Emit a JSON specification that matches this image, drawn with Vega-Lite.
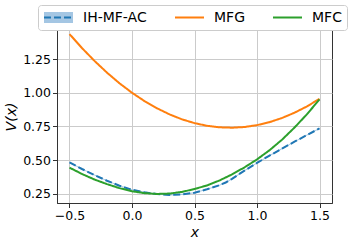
{
  "$schema": "https://vega.github.io/schema/vega-lite/v6.json",
  "width": 275,
  "height": 173,
  "autosize": "none",
  "padding": {"left": 57, "top": 30, "right": 25, "bottom": 42},
  "config": {
    "font": "DejaVu Sans",
    "view": {"stroke": "#333333", "strokeWidth": 1},
    "axis": {
      "grid": true, "gridColor": "#cbcbcb", "gridWidth": 1,
      "domainColor": "#333333", "domainWidth": 1,
      "tickColor": "#333333", "tickWidth": 1, "tickSize": 4.5,
      "labelFontSize": 12.5, "labelColor": "#000000", "labelPadding": 2,
      "titleFontSize": 14, "titleFontStyle": "italic", "titleFontWeight": "normal", "titleColor": "#000000"
    }
  },
  "data": {
    "values": [
      {"series": "IH-MF-AC", "x": -0.5, "v": 0.484, "lo": 0.480, "hi": 0.488},
      {"series": "IH-MF-AC", "x": -0.4, "v": 0.435, "lo": 0.431, "hi": 0.439},
      {"series": "IH-MF-AC", "x": -0.3, "v": 0.390, "lo": 0.386, "hi": 0.394},
      {"series": "IH-MF-AC", "x": -0.2, "v": 0.348, "lo": 0.344, "hi": 0.352},
      {"series": "IH-MF-AC", "x": -0.1, "v": 0.311, "lo": 0.307, "hi": 0.315},
      {"series": "IH-MF-AC", "x": 0.0, "v": 0.281, "lo": 0.277, "hi": 0.285},
      {"series": "IH-MF-AC", "x": 0.1, "v": 0.262, "lo": 0.258, "hi": 0.266},
      {"series": "IH-MF-AC", "x": 0.2, "v": 0.249, "lo": 0.245, "hi": 0.253},
      {"series": "IH-MF-AC", "x": 0.3, "v": 0.243, "lo": 0.239, "hi": 0.247},
      {"series": "IH-MF-AC", "x": 0.4, "v": 0.247, "lo": 0.243, "hi": 0.251},
      {"series": "IH-MF-AC", "x": 0.5, "v": 0.259, "lo": 0.255, "hi": 0.263},
      {"series": "IH-MF-AC", "x": 0.6, "v": 0.285, "lo": 0.281, "hi": 0.289},
      {"series": "IH-MF-AC", "x": 0.7, "v": 0.315, "lo": 0.311, "hi": 0.319},
      {"series": "IH-MF-AC", "x": 0.75, "v": 0.335, "lo": 0.331, "hi": 0.339},
      {"series": "IH-MF-AC", "x": 0.8, "v": 0.362, "lo": 0.358, "hi": 0.366},
      {"series": "IH-MF-AC", "x": 0.9, "v": 0.423, "lo": 0.419, "hi": 0.427},
      {"series": "IH-MF-AC", "x": 1.0, "v": 0.480, "lo": 0.476, "hi": 0.484},
      {"series": "IH-MF-AC", "x": 1.1, "v": 0.534, "lo": 0.530, "hi": 0.538},
      {"series": "IH-MF-AC", "x": 1.2, "v": 0.586, "lo": 0.582, "hi": 0.590},
      {"series": "IH-MF-AC", "x": 1.3, "v": 0.637, "lo": 0.633, "hi": 0.641},
      {"series": "IH-MF-AC", "x": 1.4, "v": 0.687, "lo": 0.683, "hi": 0.691},
      {"series": "IH-MF-AC", "x": 1.5, "v": 0.736, "lo": 0.732, "hi": 0.740},
      {"series": "MFG", "x": -0.5, "v": 1.435},
      {"series": "MFG", "x": -0.4, "v": 1.331},
      {"series": "MFG", "x": -0.3, "v": 1.236},
      {"series": "MFG", "x": -0.2, "v": 1.149},
      {"series": "MFG", "x": -0.1, "v": 1.070},
      {"series": "MFG", "x": 0.0, "v": 1.000},
      {"series": "MFG", "x": 0.1, "v": 0.938},
      {"series": "MFG", "x": 0.2, "v": 0.885},
      {"series": "MFG", "x": 0.3, "v": 0.840},
      {"series": "MFG", "x": 0.4, "v": 0.803},
      {"series": "MFG", "x": 0.5, "v": 0.775},
      {"series": "MFG", "x": 0.6, "v": 0.755},
      {"series": "MFG", "x": 0.7, "v": 0.744},
      {"series": "MFG", "x": 0.8, "v": 0.741},
      {"series": "MFG", "x": 0.9, "v": 0.746},
      {"series": "MFG", "x": 1.0, "v": 0.760},
      {"series": "MFG", "x": 1.1, "v": 0.782},
      {"series": "MFG", "x": 1.2, "v": 0.813},
      {"series": "MFG", "x": 1.3, "v": 0.852},
      {"series": "MFG", "x": 1.4, "v": 0.899},
      {"series": "MFG", "x": 1.5, "v": 0.955},
      {"series": "MFC", "x": -0.5, "v": 0.445},
      {"series": "MFC", "x": -0.4, "v": 0.398},
      {"series": "MFC", "x": -0.3, "v": 0.357},
      {"series": "MFC", "x": -0.2, "v": 0.323},
      {"series": "MFC", "x": -0.1, "v": 0.293},
      {"series": "MFC", "x": 0.0, "v": 0.270},
      {"series": "MFC", "x": 0.1, "v": 0.256},
      {"series": "MFC", "x": 0.2, "v": 0.250},
      {"series": "MFC", "x": 0.3, "v": 0.253},
      {"series": "MFC", "x": 0.4, "v": 0.265},
      {"series": "MFC", "x": 0.5, "v": 0.287},
      {"series": "MFC", "x": 0.6, "v": 0.313},
      {"series": "MFC", "x": 0.7, "v": 0.350},
      {"series": "MFC", "x": 0.8, "v": 0.395},
      {"series": "MFC", "x": 0.9, "v": 0.447},
      {"series": "MFC", "x": 1.0, "v": 0.506},
      {"series": "MFC", "x": 1.1, "v": 0.574},
      {"series": "MFC", "x": 1.2, "v": 0.652},
      {"series": "MFC", "x": 1.3, "v": 0.742},
      {"series": "MFC", "x": 1.4, "v": 0.841},
      {"series": "MFC", "x": 1.5, "v": 0.951}
    ]
  },
  "encoding": {
    "x": {
      "field": "x", "type": "quantitative",
      "scale": {"domain": [-0.6, 1.6], "nice": false, "zero": false},
      "axis": {"values": [-0.5, 0, 0.5, 1, 1.5], "format": ".1f", "title": "x", "titlePadding": 3}
    }
  },
  "layer": [
    {
      "transform": [{"filter": "datum.series == 'IH-MF-AC'"}],
      "mark": {"type": "area", "opacity": 1},
      "encoding": {
        "y": {
          "field": "lo", "type": "quantitative",
          "scale": {"domain": [0.183, 1.465], "nice": false, "zero": false},
          "axis": {"values": [0.25, 0.5, 0.75, 1.0, 1.25], "format": ".2f", "title": "V(x)", "titlePadding": 4}
        },
        "y2": {"field": "hi"},
        "fill": {
          "field": "series", "type": "nominal",
          "scale": {"domain": ["IH-MF-AC", "fill-MFG", "fill-MFC"], "range": ["#a4c6e3", "transparent", "transparent"]},
          "legend": {
            "title": null, "orient": "none", "legendX": -19, "legendY": -25, "direction": "horizontal",
            "symbolType": "M-1,-0.38H1V0.38H-1Z", "symbolSize": 841, "symbolStrokeWidth": 2, "symbolStrokeColor": "transparent",
            "labelFontSize": 14, "labelFont": "DejaVu Sans", "labelColor": "transparent", "labelOffset": 9,
            "labelExpr": "datum.label == 'IH-MF-AC' ? 'IH-MF-AC' : datum.label == 'fill-MFG' ? 'MFG' : 'MFC'",
            "columnPadding": 27, "clipHeight": 15, "padding": 5,
            "fillColor": "white", "strokeColor": "#cccccc", "cornerRadius": 3, "zindex": 0
          }
        }
      }
    },
    {
      "mark": {"type": "line", "strokeWidth": 2},
      "encoding": {
        "y": {
          "field": "v", "type": "quantitative",
          "scale": {"domain": [0.183, 1.465], "nice": false, "zero": false},
          "axis": {"values": [0.25, 0.5, 0.75, 1.0, 1.25], "format": ".2f", "title": "V(x)", "titlePadding": 4}
        },
        "color": {
          "field": "series", "type": "nominal",
          "scale": {"domain": ["IH-MF-AC", "MFG", "MFC"], "range": ["#1f77b4", "#ff7f0e", "#2ca02c"]},
          "legend": {
            "title": null, "orient": "none", "legendX": -19, "legendY": -25, "direction": "horizontal",
            "symbolType": "stroke", "symbolSize": 841, "symbolStrokeWidth": 2,
            "labelFontSize": 14, "labelFont": "DejaVu Sans", "labelColor": "#000000", "labelOffset": 9,
            "columnPadding": 27, "clipHeight": 15, "padding": 5,
            "fillColor": "transparent", "strokeColor": "transparent", "zindex": 1
          }
        },
        "strokeDash": {
          "field": "series", "type": "nominal",
          "scale": {"domain": ["IH-MF-AC", "MFG", "MFC"], "range": [[7, 3], [1, 0], [1, 0]]},
          "legend": {
            "title": null, "orient": "none", "legendX": -19, "legendY": -25, "direction": "horizontal",
            "symbolType": "stroke", "symbolSize": 841, "symbolStrokeWidth": 2,
            "labelFontSize": 14, "labelFont": "DejaVu Sans", "labelColor": "#000000", "labelOffset": 9,
            "columnPadding": 27, "clipHeight": 15, "padding": 5,
            "fillColor": "transparent", "strokeColor": "transparent", "zindex": 1
          }
        }
      }
    }
  ]
}
